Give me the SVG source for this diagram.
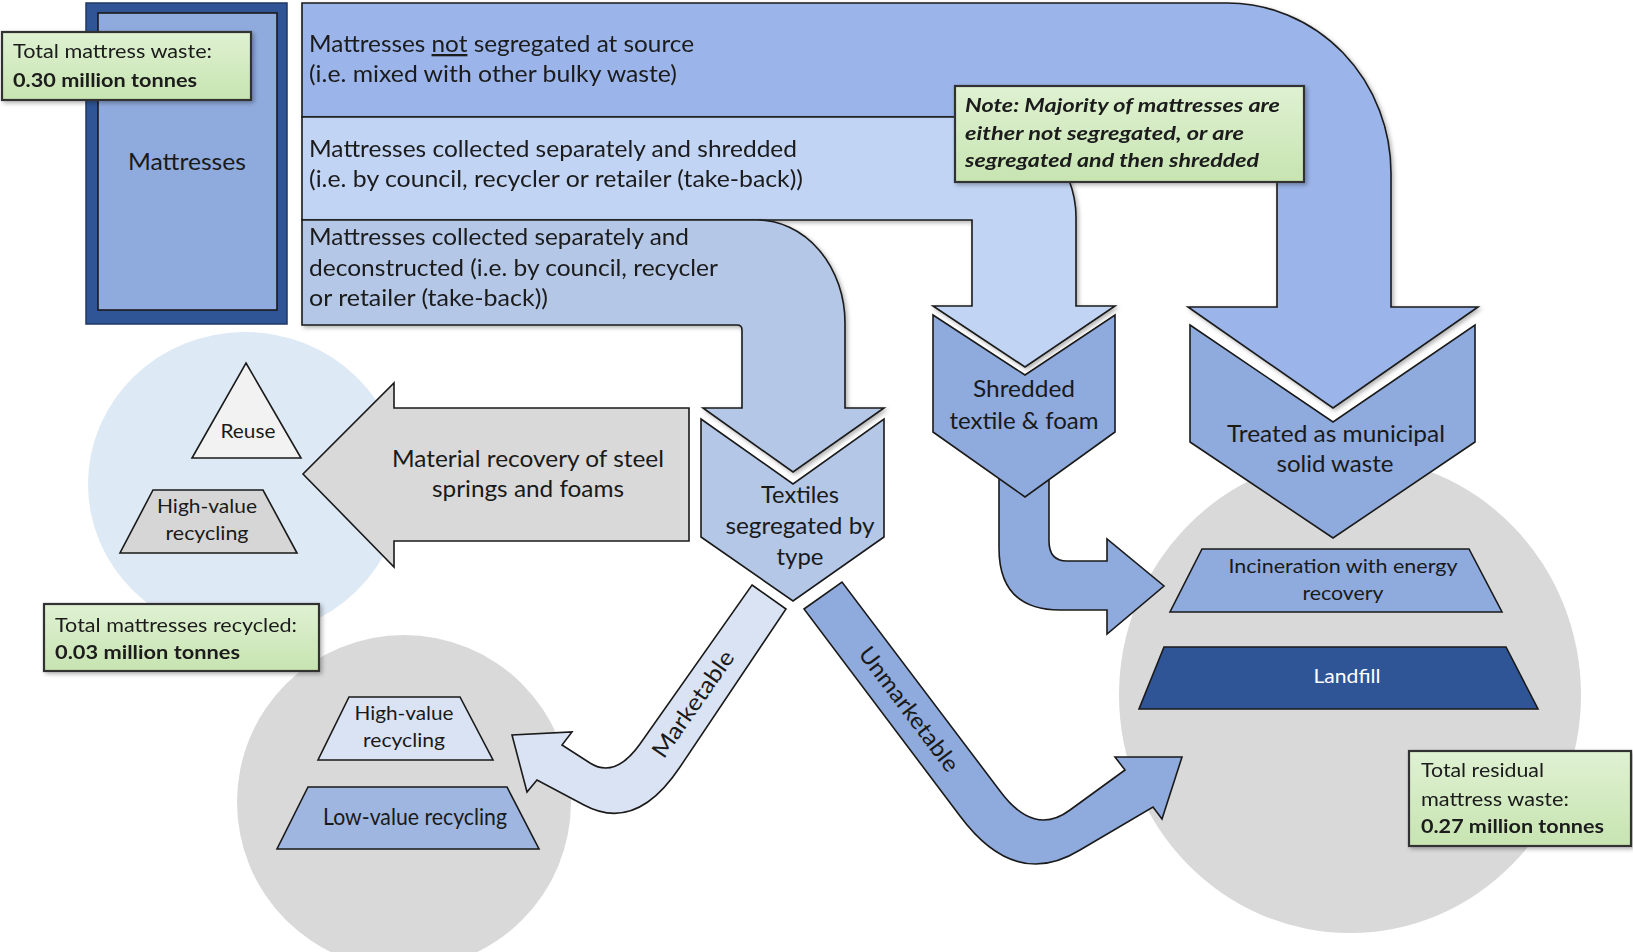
<svg xmlns="http://www.w3.org/2000/svg" width="1633" height="952" viewBox="0 0 1633 952">
<defs>
<style>
text{font-family:Lato,"Liberation Sans",sans-serif;fill:#1a1a1a;font-size:23px}
.ol{stroke:#1a1a1a;stroke-width:1.6;stroke-linejoin:miter}
.lbl{fill:url(#green);stroke:#333;stroke-width:2.2}
.lt{font-size:19.5px}
.b{font-weight:bold}
.note{font-weight:bold;font-style:italic;font-size:19.5px}
.sm{font-size:19px}
.mid{text-anchor:middle}
.sh{filter:url(#sh)}
</style>
<linearGradient id="green" x1="0" y1="0" x2="0" y2="1">
<stop offset="0" stop-color="#DFF1D2"/><stop offset="1" stop-color="#C7E4B1"/>
</linearGradient>
<filter id="sh" x="-5%" y="-5%" width="112%" height="115%">
<feDropShadow dx="2" dy="2" stdDeviation="2" flood-color="#000" flood-opacity="0.3"/>
</filter>
</defs>
<rect width="1633" height="952" fill="#fff"/>

<g id="backgrounds">
<ellipse cx="245" cy="484" rx="157" ry="152" fill="#DDE9F5"/>
<circle cx="404" cy="802" r="167" fill="#D9D9D9"/>
<ellipse cx="1350" cy="695" rx="231" ry="238" fill="#D9D9D9"/>
</g>

<g id="mattresses">
<rect x="86" y="3" width="201" height="321" fill="#2F5597" stroke="#1F3864" stroke-width="1.5"/>
<rect x="98" y="13" width="179" height="297" fill="#8FAADC" class="ol"/>
<text x="187" y="170" class="mid" font-size="25" textLength="118" lengthAdjust="spacingAndGlyphs">Mattresses</text>
</g>

<g id="band-not-segregated" class="sh">
<path class="ol" fill="#9BB5EA" d="M302,3 L1227,3 A164,170 0 0 1 1391,173 L1391,307 L1478,307 L1333,408 L1188,307 L1277,307 L1277,117 L302,117 Z"/>
<text x="309" y="52" textLength="385" lengthAdjust="spacingAndGlyphs">Mattresses <tspan text-decoration="underline">not</tspan> segregated at source</text>
<text x="309" y="82" textLength="368" lengthAdjust="spacingAndGlyphs">(i.e. mixed with other bulky waste)</text>
</g>

<g id="band-shredded" class="sh">
<path class="ol" fill="#C1D4F4" d="M302,117 L976,117 A100,100 0 0 1 1076,217 L1076,306 L1115,306 L1025,367 L933,306 L972,306 L972,220 L302,220 Z"/>
<text x="309" y="157" textLength="488" lengthAdjust="spacingAndGlyphs">Mattresses collected separately and shredded</text>
<text x="309" y="187" textLength="494" lengthAdjust="spacingAndGlyphs">(i.e. by council, recycler or retailer (take-back))</text>
</g>

<g id="band-deconstructed" class="sh">
<path class="ol" fill="#B4C7E7" d="M302,220 L757,220 A88,103 0 0 1 845,323 L845,408 L884,408 L793,472 L703,408 L742,408 L742,330 Q742,325 737,325 L302,325 Z"/>
<text x="309" y="245" textLength="380" lengthAdjust="spacingAndGlyphs">Mattresses collected separately and</text>
<text x="309" y="276" textLength="409" lengthAdjust="spacingAndGlyphs">deconstructed (i.e. by council, recycler</text>
<text x="309" y="306" textLength="239" lengthAdjust="spacingAndGlyphs">or retailer (take-back))</text>
</g>

<g id="note" class="sh">
<rect x="955" y="86" width="349" height="96" class="lbl"/>
<text x="965" y="112" class="note" textLength="315" lengthAdjust="spacingAndGlyphs">Note: Majority of mattresses are</text>
<text x="965" y="140" class="note" textLength="279" lengthAdjust="spacingAndGlyphs">either not segregated, or are</text>
<text x="965" y="167" class="note" textLength="294" lengthAdjust="spacingAndGlyphs">segregated and then shredded</text>
</g>

<g id="connectors">
<path id="shredded-to-incineration" class="ol" fill="#8FAADC" d="M999,460 L999,548 Q999,610 1060,610 L1107,610 L1107,634 L1164,586 L1107,539 L1107,561 L1067,561 Q1049,561 1049,541 L1049,460 Z"/>
<path id="marketable" class="ol" fill="#DAE3F3" d="M752,585 L786,609 L680,767 Q636,833 584,805 L537,780 L527,792 L512,735 L572,732 L562,745 L590,763 Q615,779 640,744 Z"/>
<text x="693" y="712" class="mid" font-size="22" textLength="125" lengthAdjust="spacingAndGlyphs" transform="rotate(-55 693 704)">Marketable</text>
<path id="unmarketable" class="ol" fill="#8FAADC" d="M804,609 L842,582 L1000,791 Q1034,837 1070,810 L1125,770 L1115,757 L1182,757 L1162,819 L1153,807 L1080,850 Q1015,890 960,816 Z"/>
<text x="909" y="717" class="mid" font-size="22" textLength="150" lengthAdjust="spacingAndGlyphs" transform="rotate(53 909 709)">Unmarketable</text>
</g>

<g id="material-recovery">
<path class="ol" fill="#D9D9D9" d="M689,408 L394,408 L394,383 L303,474 L394,567 L394,541 L689,541 Z"/>
<text x="528" y="467" class="mid" font-size="24" textLength="272" lengthAdjust="spacingAndGlyphs">Material recovery of steel</text>
<text x="528" y="497" class="mid" font-size="24" textLength="192" lengthAdjust="spacingAndGlyphs">springs and foams</text>
</g>

<g id="textiles">
<path class="ol" fill="#B4C7E7" d="M701,419 L793,484 L884,419 L884,537 L793,601 L701,537 Z"/>
<text x="800" y="503" class="mid" textLength="78" lengthAdjust="spacingAndGlyphs">Textiles</text>
<text x="800" y="534" class="mid" textLength="149" lengthAdjust="spacingAndGlyphs">segregated by</text>
<text x="800" y="565" class="mid" textLength="47" lengthAdjust="spacingAndGlyphs">type</text>
</g>

<g id="shredded">
<path class="ol" fill="#8FAADC" d="M933,315 L1025,375 L1115,315 L1115,432 L1025,497 L933,432 Z"/>
<text x="1024" y="397" class="mid" textLength="102" lengthAdjust="spacingAndGlyphs">Shredded</text>
<text x="1024" y="429" class="mid" textLength="149" lengthAdjust="spacingAndGlyphs">textile &amp; foam</text>
</g>

<g id="treated">
<path class="ol" fill="#8FAADC" d="M1190,325 L1333,422 L1475,325 L1475,442 L1333,538 L1190,442 Z"/>
<text x="1336" y="442" class="mid" textLength="218" lengthAdjust="spacingAndGlyphs">Treated as municipal</text>
<text x="1335" y="472" class="mid" textLength="117" lengthAdjust="spacingAndGlyphs">solid waste</text>
</g>

<g id="reuse">
<path class="ol" fill="#F2F2F2" d="M246,363 L301,458 L192,458 Z"/>
<text x="248" y="438" class="mid sm" textLength="55" lengthAdjust="spacingAndGlyphs">Reuse</text>
</g>

<g id="high-value-left">
<path class="ol" fill="#D6D6D6" d="M153,490 L263,490 L297,553 L120,553 Z"/>
<text x="207" y="513" class="mid sm" textLength="100" lengthAdjust="spacingAndGlyphs">High-value</text>
<text x="207" y="540" class="mid sm" textLength="83" lengthAdjust="spacingAndGlyphs">recycling</text>
</g>

<g id="high-value-bottom">
<path class="ol" fill="#DAE3F3" d="M349,697 L460,697 L493,760 L318,760 Z"/>
<text x="404" y="720" class="mid sm" textLength="99" lengthAdjust="spacingAndGlyphs">High-value</text>
<text x="404" y="747" class="mid sm" textLength="82" lengthAdjust="spacingAndGlyphs">recycling</text>
</g>

<g id="low-value">
<path class="ol" fill="#9FB6E0" d="M308,787 L507,787 L539,849 L277,849 Z"/>
<text x="415" y="825" class="mid" font-size="20" textLength="184" lengthAdjust="spacingAndGlyphs">Low-value recycling</text>
</g>

<g id="incineration">
<path class="ol" fill="#8FAADC" d="M1202,549 L1469,549 L1502,612 L1170,612 Z"/>
<text x="1343" y="573" class="mid sm" textLength="229" lengthAdjust="spacingAndGlyphs">Incineration with energy</text>
<text x="1343" y="600" class="mid sm" textLength="81" lengthAdjust="spacingAndGlyphs">recovery</text>
</g>

<g id="landfill">
<path class="ol" fill="#2F5597" d="M1164,647 L1506,647 L1538,709 L1139,709 Z"/>
<text x="1347" y="683" class="mid sm" fill="#fff" style="fill:#fff" textLength="67" lengthAdjust="spacingAndGlyphs">Landfill</text>
</g>

<g id="label-total-waste" class="sh">
<rect x="2" y="32" width="249" height="68" class="lbl"/>
<text x="13" y="58" class="lt" textLength="199" lengthAdjust="spacingAndGlyphs">Total mattress waste:</text>
<text x="13" y="87" class="lt b" textLength="184" lengthAdjust="spacingAndGlyphs">0.30 million tonnes</text>
</g>

<g id="label-recycled" class="sh">
<rect x="44" y="604" width="275" height="67" class="lbl"/>
<text x="55" y="632" class="lt" textLength="242" lengthAdjust="spacingAndGlyphs">Total mattresses recycled:</text>
<text x="55" y="659" class="lt b" textLength="185" lengthAdjust="spacingAndGlyphs">0.03 million tonnes</text>
</g>

<g id="label-residual" class="sh">
<rect x="1409" y="751" width="222" height="95" class="lbl"/>
<text x="1421" y="777" class="lt" textLength="123" lengthAdjust="spacingAndGlyphs">Total residual</text>
<text x="1421" y="806" class="lt" textLength="148" lengthAdjust="spacingAndGlyphs">mattress waste:</text>
<text x="1421" y="833" class="lt b" textLength="183" lengthAdjust="spacingAndGlyphs">0.27 million tonnes</text>
</g>
</svg>
